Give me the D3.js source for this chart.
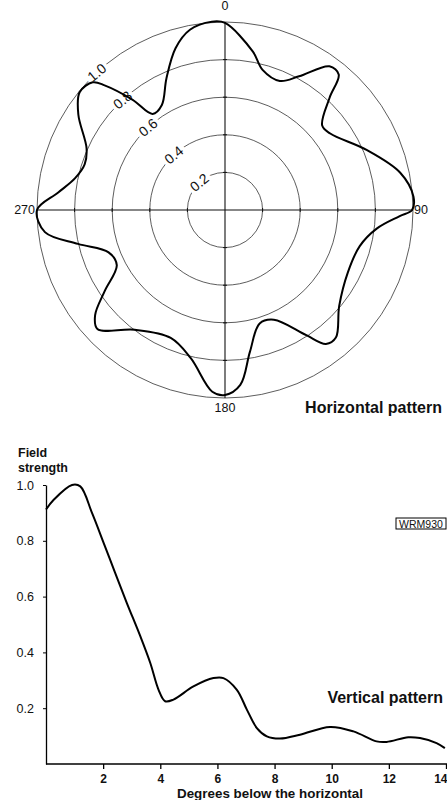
<!DOCTYPE html>
<html lang="en">
<head>
    <title>Field strength patterns</title>
    <script src="https://d3js.org/d3.v7.min.js"></script>
    <style>
        body { margin: 0; background: #fff; }
        text { font-family: "Liberation Sans", Arial, sans-serif; fill: #111; }
    </style>
</head>
<body>
<script>
    // horizontal pattern: bearing (degrees, clockwise from 0) and relative field strength
    const hAngles = [0, 10, 15, 23, 29, 36, 40, 43, 49, 54, 67, 78, 86, 90, 92, 97, 105, 117, 130, 139,
        143, 147, 156, 163, 170, 175, 180, 184, 193, 203, 217, 227, 231, 236, 243, 250, 257, 263, 270,
        276, 282, 288, 294, 303, 309, 314, 316, 320, 323, 329, 336, 343, 349, 356];
    const hValues = [0.995, 0.855, 0.772, 0.746, 0.813, 0.945, 0.941, 0.815, 0.685, 0.692, 0.818, 0.953, 1.005, 0.995, 0.93, 0.813, 0.742, 0.733, 0.793, 0.899,
        0.892, 0.794, 0.639, 0.631, 0.765, 0.934, 0.984, 0.969, 0.809, 0.739, 0.798, 0.928, 0.889, 0.772, 0.646, 0.659, 0.802, 0.965, 1.0,
        0.892, 0.815, 0.785, 0.806, 0.93, 0.995, 0.978, 0.922, 0.767, 0.64, 0.652, 0.766, 0.9, 0.977, 1.004];
    const ringValues = [0.2, 0.4, 0.6, 0.8, 1.0];
    const bearingLabels = [0, 90, 180, 270];

    // vertical pattern: degrees below the horizontal vs field strength
    const vDegrees = [0, 0.27, 0.91, 1.2, 1.61, 2.02, 2.42, 2.83, 3.3, 3.65, 3.94, 4.17, 4.46, 5.16, 5.86, 6.21,
        6.68, 7.03, 7.38, 7.73, 8.19, 8.89, 9.94, 10.76, 11.57, 11.92, 12.68, 13.09, 13.67, 13.96];
    const vValues = [0.912, 0.947, 1.0, 0.995, 0.9, 0.792, 0.685, 0.577, 0.458, 0.362, 0.266, 0.225, 0.231, 0.278, 0.308, 0.308,
        0.266, 0.195, 0.129, 0.099, 0.091, 0.105, 0.133, 0.117, 0.081, 0.079, 0.096, 0.093, 0.075, 0.057];
    const xTicks = [2, 4, 6, 8, 10, 12, 14];
    const yTicks = [0.2, 0.4, 0.6, 0.8, 1.0];

    const svg = d3.select("body").append("svg")
        .attr("width", 447)
        .attr("height", 800);

    // ---------- polar chart ----------
    const cx = 225, cy = 210;
    const r = d3.scaleLinear().domain([0, 1]).range([0, 188]);
    const rad = d => d * Math.PI / 180;

    const polar = svg.append("g").attr("transform", "translate(" + cx + "," + cy + ")");

    polar.selectAll(".ring")
        .data(ringValues)
        .enter().append("circle")
        .attr("class", "ring")
        .attr("r", d => r(d))
        .attr("fill", "none")
        .attr("stroke", "#333")
        .attr("stroke-width", 0.8);

    // cross axes
    polar.append("line").attr("x1", -r(1)).attr("x2", r(1)).attr("y1", 0).attr("y2", 0)
        .attr("stroke", "#111").attr("stroke-width", 1.1);
    polar.append("line").attr("x1", 0).attr("x2", 0).attr("y1", -r(1)).attr("y2", r(1))
        .attr("stroke", "#111").attr("stroke-width", 1.1);

    // little ticks where rings cross the axes
    ringValues.slice(0, 4).forEach(v => {
        [-1, 1].forEach(s => {
            polar.append("line").attr("x1", s * r(v)).attr("x2", s * r(v)).attr("y1", -2).attr("y2", 2)
                .attr("stroke", "#111").attr("stroke-width", 1);
            polar.append("line").attr("y1", s * r(v)).attr("y2", s * r(v)).attr("x1", -2).attr("x2", 2)
                .attr("stroke", "#111").attr("stroke-width", 1);
        });
    });

    // ring labels along the upper-left diagonal
    const labelAngle = rad(317);
    polar.selectAll(".ringlabel")
        .data(ringValues)
        .enter().append("text")
        .attr("class", "ringlabel")
        .attr("transform", d => "translate(" + (r(d) * Math.sin(labelAngle)) + "," + (-r(d) * Math.cos(labelAngle)) + ") rotate(-40)")
        .attr("text-anchor", "middle")
        .attr("dominant-baseline", "central")
        .attr("font-size", 14)
        .style("paint-order", "stroke")
        .style("stroke", "#fff")
        .style("stroke-width", "7px")
        .text(d => d.toFixed(1));

    // bearing labels
    const bearingPos = {0: [0, -r(1) - 16, "middle"], 90: [r(1) + 1, 0, "start"], 180: [0, r(1) + 10, "middle"], 270: [-r(1) - 2, 0, "end"]};
    polar.selectAll(".bearing")
        .data(bearingLabels)
        .enter().append("text")
        .attr("class", "bearing")
        .attr("x", d => bearingPos[d][0])
        .attr("y", d => bearingPos[d][1])
        .attr("text-anchor", d => bearingPos[d][2])
        .attr("dominant-baseline", "central")
        .attr("font-size", 12.5)
        .text(d => d);

    const hData = hAngles.map((a, i) => ({a: a, v: hValues[i]}));
    polar.append("path")
        .datum(hData)
        .attr("fill", "none")
        .attr("stroke", "#000")
        .attr("stroke-width", 2)
        .attr("d", d3.lineRadial()
            .angle(d => rad(d.a))
            .radius(d => r(d.v))
            .curve(d3.curveCatmullRomClosed.alpha(0.5)));

    svg.append("text")
        .attr("x", 442).attr("y", 407)
        .attr("text-anchor", "end")
        .attr("dominant-baseline", "central")
        .attr("font-size", 16)
        .attr("font-weight", "bold")
        .text("Horizontal pattern");

    // ---------- vertical pattern ----------
    const x = d3.scaleLinear().domain([0, 14]).range([46, 446]);
    const y = d3.scaleLinear().domain([0, 1]).range([764, 485]);

    const yAxis = svg.append("g")
        .attr("transform", "translate(46,0)")
        .call(d3.axisLeft(y).tickValues(yTicks).tickSize(3).tickPadding(9).tickSizeOuter(0).tickFormat(d3.format(".1f")));
    yAxis.select(".domain").attr("stroke", "#000").attr("stroke-width", 1.3);
    yAxis.selectAll("text").attr("font-size", 12.5).attr("fill", "#555").style("font-family", "Liberation Sans, Arial, sans-serif");

    const xAxis = svg.append("g")
        .attr("transform", "translate(0,764)")
        .call(d3.axisBottom(x).tickValues(xTicks).tickSize(5).tickSizeOuter(0));
    xAxis.select(".domain").attr("stroke", "#000").attr("stroke-width", 1.3)
        .attr("d", "M46,0H447");
    xAxis.selectAll("line").attr("stroke-width", 1.3);
    xAxis.selectAll("text").attr("font-size", 12).attr("font-weight", "bold").attr("fill", "#222")
        .attr("dy", "0.9em").style("font-family", "Liberation Sans, Arial, sans-serif");
    // last label sits right at the page edge, keep it inside
    xAxis.selectAll(".tick").filter(d => d === 14).select("text")
        .attr("text-anchor", "end").attr("x", 1);

    const vData = vDegrees.map((dg, i) => ({x: dg, y: vValues[i]}));
    svg.append("path")
        .datum(vData)
        .attr("fill", "none")
        .attr("stroke", "#000")
        .attr("stroke-width", 2)
        .attr("d", d3.line()
            .x(d => x(d.x))
            .y(d => y(d.y))
            .curve(d3.curveCatmullRom.alpha(0.5)));

    svg.append("text").attr("x", 18).attr("y", 453).attr("dominant-baseline", "central")
        .attr("font-size", 12.5).attr("font-weight", "bold").text("Field");
    svg.append("text").attr("x", 18).attr("y", 468).attr("dominant-baseline", "central")
        .attr("font-size", 12.5).attr("font-weight", "bold").attr("fill", "#444").text("strength");

    svg.append("text")
        .attr("x", 270).attr("y", 793)
        .attr("text-anchor", "middle")
        .attr("dominant-baseline", "central")
        .attr("font-size", 13.4)
        .attr("font-weight", "bold")
        .text("Degrees below the horizontal");

    svg.append("text")
        .attr("x", 443).attr("y", 697)
        .attr("text-anchor", "end")
        .attr("dominant-baseline", "central")
        .attr("font-size", 16)
        .attr("font-weight", "bold")
        .text("Vertical pattern");

    // small reference box
    svg.append("rect").attr("x", 396).attr("y", 518).attr("width", 50).attr("height", 11)
        .attr("fill", "none").attr("stroke", "#000").attr("stroke-width", 1);
    svg.append("text").attr("x", 421).attr("y", 524).attr("text-anchor", "middle")
        .attr("dominant-baseline", "central").attr("font-size", 10.5).text("WRM930");
</script>
</body>
</html>
